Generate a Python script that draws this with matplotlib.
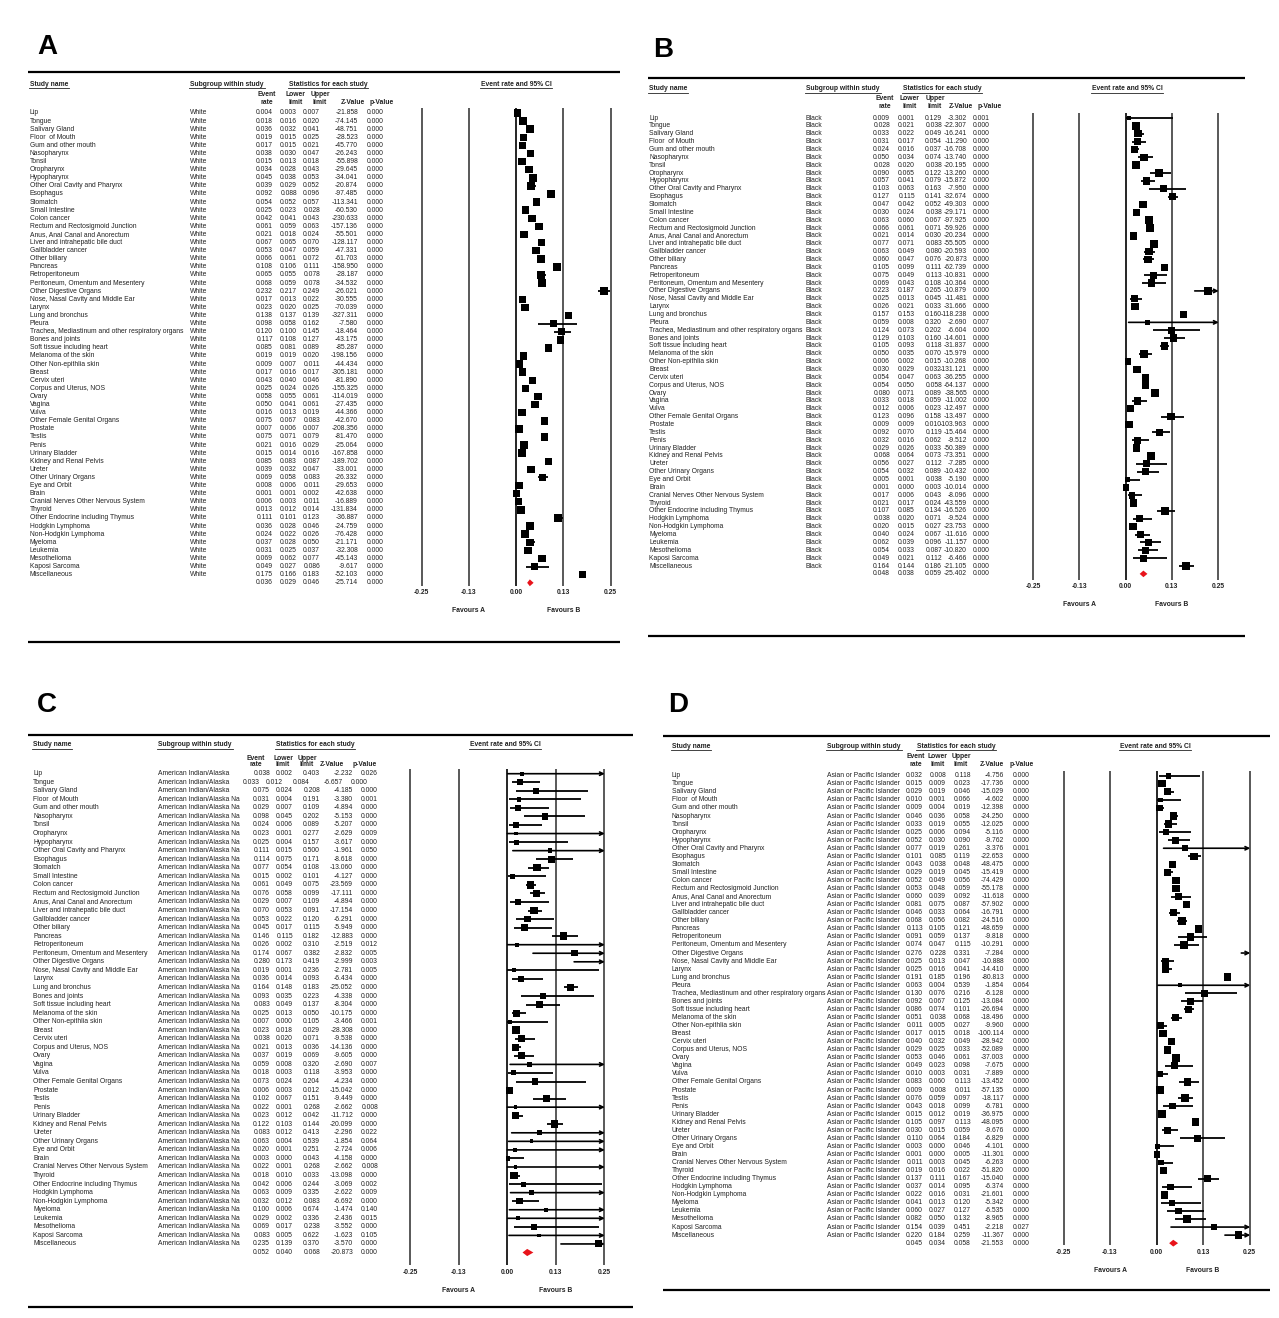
import numpy as np
import matplotlib
matplotlib.use('Agg')
import matplotlib.pyplot as plt
from matplotlib.transforms import blended_transform_factory

plt.rcParams['font.family'] = ['Liberation Sans', 'DejaVu Sans']

# ---- data ----
names = ["Lip", "Tongue", "Salivary Gland", "Floor  of Mouth", "Gum and other mouth", "Nasopharynx",
         "Tonsil", "Oropharynx", "Hypopharynx", "Other Oral Cavity and Pharynx", "Esophagus", "Stomatch",
         "Small Intestine", "Colon cancer", "Rectum and Rectosigmoid Junction", "Anus, Anal Canal and Anorectum",
         "Liver and intrahepatic bile duct", "Gallbladder cancer", "Other biliary", "Pancreas",
         "Retroperitoneum", "Peritoneum, Omentum and Mesentery", "Other Digestive Organs",
         "Nose, Nasal Cavity and Middle Ear", "Larynx", "Lung and bronchus", "Pleura",
         "Trachea, Mediastinum and other respiratory organs", "Bones and joints", "Soft tissue including heart",
         "Melanoma of the skin", "Other Non-epithlia skin", "Breast", "Cervix uteri", "Corpus and Uterus, NOS",
         "Ovary", "Vagina", "Vulva", "Other Female Genital Organs", "Prostate", "Testis", "Penis",
         "Urinary Bladder", "Kidney and Renal Pelvis", "Ureter", "Other Urinary Organs", "Eye and Orbit",
         "Brain", "Cranial Nerves Other Nervous System", "Thyroid", "Other Endocrine including Thymus",
         "Hodgkin Lymphoma", "Non-Hodgkin Lymphoma", "Myeloma", "Leukemia", "Mesothelioma",
         "Kaposi Sarcoma", "Miscellaneous"]
# panel C has no Pleura / Trachea rows
names_c = [n for n in names if n not in ("Pleura", "Trachea, Mediastinum and other respiratory organs")]

# A - White
a_rate = [0.004, 0.018, 0.036, 0.019, 0.017, 0.038, 0.015, 0.034, 0.045, 0.039, 0.092, 0.054, 0.025, 0.042,
          0.061, 0.021, 0.067, 0.053, 0.066, 0.108, 0.065, 0.068, 0.232, 0.017, 0.023, 0.138, 0.098, 0.120,
          0.117, 0.085, 0.019, 0.009, 0.017, 0.043, 0.025, 0.058, 0.050, 0.016, 0.075, 0.007, 0.075, 0.021,
          0.015, 0.085, 0.039, 0.069, 0.008, 0.001, 0.006, 0.013, 0.111, 0.036, 0.024, 0.037, 0.031, 0.069,
          0.049, 0.175]
a_lower = [0.003, 0.016, 0.032, 0.015, 0.015, 0.030, 0.013, 0.028, 0.038, 0.029, 0.088, 0.052, 0.023, 0.041,
           0.059, 0.018, 0.065, 0.047, 0.061, 0.106, 0.055, 0.059, 0.217, 0.013, 0.020, 0.137, 0.058, 0.100,
           0.108, 0.081, 0.019, 0.007, 0.016, 0.040, 0.024, 0.055, 0.041, 0.013, 0.067, 0.006, 0.071, 0.016,
           0.014, 0.083, 0.032, 0.058, 0.006, 0.001, 0.003, 0.012, 0.101, 0.028, 0.022, 0.028, 0.025, 0.062,
           0.027, 0.166]
a_upper = [0.007, 0.020, 0.041, 0.025, 0.021, 0.047, 0.018, 0.043, 0.053, 0.052, 0.096, 0.057, 0.028, 0.043,
           0.063, 0.024, 0.070, 0.059, 0.072, 0.111, 0.078, 0.078, 0.249, 0.022, 0.025, 0.139, 0.162, 0.145,
           0.127, 0.089, 0.020, 0.011, 0.017, 0.046, 0.026, 0.061, 0.061, 0.019, 0.083, 0.007, 0.079, 0.029,
           0.016, 0.087, 0.047, 0.083, 0.011, 0.002, 0.011, 0.014, 0.123, 0.046, 0.026, 0.050, 0.037, 0.077,
           0.086, 0.183]
a_z = [-21.858, -74.145, -48.751, -28.523, -45.770, -26.243, -55.898, -29.645, -34.041, -20.874, -97.485,
       -113.341, -60.530, -230.633, -157.136, -55.501, -128.117, -47.331, -61.703, -158.950, -28.187, -34.532,
       -26.021, -30.555, -70.039, -327.311, -7.580, -18.464, -43.175, -85.287, -198.156, -44.434, -305.181,
       -81.890, -155.325, -114.019, -27.435, -44.366, -42.670, -208.356, -81.470, -25.064, -167.858,
       -189.702, -33.001, -26.332, -29.653, -42.638, -16.889, -131.834, -36.887, -24.759, -76.428, -21.171,
       -32.308, -45.143, -9.617, -52.103]
a_p = [0.0] * 58
a_summary = [0.036, 0.029, 0.046, -25.714, 0.000]

# B - Black
b_rate = [0.009, 0.028, 0.033, 0.031, 0.024, 0.050, 0.028, 0.090, 0.057, 0.103, 0.127, 0.047, 0.030, 0.063,
          0.066, 0.021, 0.077, 0.063, 0.060, 0.105, 0.075, 0.069, 0.223, 0.025, 0.026, 0.157, 0.059, 0.124,
          0.129, 0.105, 0.050, 0.006, 0.030, 0.054, 0.054, 0.080, 0.033, 0.012, 0.123, 0.009, 0.092, 0.032,
          0.029, 0.068, 0.056, 0.054, 0.005, 0.001, 0.017, 0.021, 0.107, 0.038, 0.020, 0.040, 0.062, 0.054,
          0.049, 0.164]
b_lower = [0.001, 0.021, 0.022, 0.017, 0.016, 0.034, 0.020, 0.065, 0.041, 0.063, 0.115, 0.042, 0.024, 0.060,
           0.061, 0.014, 0.071, 0.049, 0.047, 0.099, 0.049, 0.043, 0.187, 0.013, 0.021, 0.153, 0.008, 0.073,
           0.103, 0.093, 0.035, 0.002, 0.029, 0.047, 0.050, 0.071, 0.018, 0.006, 0.096, 0.009, 0.070, 0.016,
           0.026, 0.064, 0.027, 0.032, 0.001, 0.000, 0.006, 0.017, 0.085, 0.020, 0.015, 0.024, 0.039, 0.033,
           0.021, 0.144]
b_upper = [0.129, 0.038, 0.049, 0.054, 0.037, 0.074, 0.038, 0.122, 0.079, 0.163, 0.141, 0.052, 0.038, 0.067,
           0.071, 0.030, 0.083, 0.080, 0.076, 0.111, 0.113, 0.108, 0.265, 0.045, 0.033, 0.160, 0.320, 0.202,
           0.160, 0.118, 0.070, 0.015, 0.032, 0.063, 0.058, 0.089, 0.059, 0.023, 0.158, 0.010, 0.119, 0.062,
           0.033, 0.073, 0.112, 0.089, 0.038, 0.003, 0.043, 0.024, 0.134, 0.071, 0.027, 0.067, 0.096, 0.087,
           0.112, 0.186]
b_z = [-3.302, -22.307, -16.241, -11.290, -16.708, -13.740, -20.195, -13.260, -15.872, -7.950, -32.674,
       -49.303, -29.171, -97.925, -59.926, -20.234, -55.505, -20.593, -20.873, -62.739, -10.831, -10.364,
       -10.879, -11.481, -31.666, -118.238, -2.690, -6.604, -14.601, -31.837, -15.979, -10.268, -131.121,
       -36.255, -64.137, -38.565, -11.002, -12.497, -13.497, -103.963, -15.464, -9.512, -50.389, -73.351,
       -7.285, -10.432, -5.190, -10.014, -8.096, -43.559, -16.526, -9.524, -23.753, -11.616, -11.157, -10.820,
       -6.466, -21.105]
b_p = [0.001] + [0.0] * 25 + [0.007] + [0.0] * 31
b_summary = [0.048, 0.038, 0.059, -25.402, 0.000]

# C - American Indian/Alaska Native
c_rate = [0.038, 0.033, 0.075, 0.031, 0.029, 0.098, 0.024, 0.023, 0.025, 0.111, 0.114, 0.077, 0.015, 0.061,
          0.076, 0.029, 0.070, 0.053, 0.045, 0.146, 0.026, 0.174, 0.280, 0.019, 0.036, 0.164, 0.093, 0.083,
          0.025, 0.007, 0.023, 0.038, 0.021, 0.037, 0.059, 0.018, 0.073, 0.006, 0.102, 0.022, 0.023, 0.122,
          0.083, 0.063, 0.020, 0.003, 0.022, 0.018, 0.042, 0.063, 0.032, 0.100, 0.029, 0.069, 0.083, 0.235]
c_lower = [0.002, 0.012, 0.024, 0.004, 0.007, 0.045, 0.006, 0.001, 0.004, 0.015, 0.075, 0.054, 0.002, 0.049,
           0.058, 0.007, 0.053, 0.022, 0.017, 0.115, 0.002, 0.067, 0.173, 0.001, 0.014, 0.148, 0.035, 0.049,
           0.013, 0.000, 0.018, 0.020, 0.013, 0.019, 0.008, 0.003, 0.024, 0.003, 0.067, 0.001, 0.012, 0.103,
           0.012, 0.004, 0.001, 0.000, 0.001, 0.010, 0.006, 0.009, 0.012, 0.006, 0.002, 0.017, 0.005, 0.139]
c_upper = [0.403, 0.084, 0.208, 0.191, 0.109, 0.202, 0.089, 0.277, 0.157, 0.500, 0.171, 0.108, 0.101, 0.075,
           0.099, 0.109, 0.091, 0.120, 0.115, 0.182, 0.310, 0.382, 0.419, 0.236, 0.093, 0.183, 0.223, 0.137,
           0.050, 0.105, 0.029, 0.071, 0.036, 0.069, 0.320, 0.118, 0.204, 0.012, 0.151, 0.268, 0.042, 0.144,
           0.413, 0.539, 0.251, 0.043, 0.268, 0.033, 0.244, 0.335, 0.083, 0.674, 0.336, 0.238, 0.622, 0.370]
c_z = [-2.232, -6.657, -4.185, -3.380, -4.894, -5.153, -5.207, -2.629, -3.617, -1.961, -8.618, -13.060, -4.127,
       -23.569, -17.111, -4.894, -17.154, -6.291, -5.949, -12.883, -2.519, -2.832, -2.999, -2.781, -6.434,
       -25.052, -4.338, -8.304, -10.175, -3.466, -28.308, -9.538, -14.136, -9.605, -2.690, -3.953, -4.234,
       -15.042, -9.449, -2.662, -11.712, -20.099, -2.296, -1.854, -2.724, -4.158, -2.662, -13.098, -3.069,
       -2.622, -6.692, -1.474, -2.436, -3.552, -1.623, -3.570]
c_p = [0.026, 0.000, 0.000, 0.001, 0.000, 0.000, 0.000, 0.009, 0.000, 0.050, 0.000, 0.000, 0.000, 0.000,
       0.000, 0.000, 0.000, 0.000, 0.000, 0.000, 0.012, 0.005, 0.003, 0.005, 0.000, 0.000, 0.000, 0.000,
       0.000, 0.001, 0.000, 0.000, 0.000, 0.000, 0.007, 0.000, 0.000, 0.000, 0.000, 0.008, 0.000, 0.000,
       0.022, 0.064, 0.006, 0.000, 0.008, 0.000, 0.002, 0.009, 0.000, 0.140, 0.015, 0.000, 0.105, 0.000]
c_summary = [0.052, 0.040, 0.068, -20.873, 0.000]

# D - Asian or Pacific Islander
d_rate = [0.032, 0.015, 0.029, 0.010, 0.009, 0.046, 0.033, 0.025, 0.052, 0.077, 0.101, 0.043, 0.029, 0.052,
          0.053, 0.060, 0.081, 0.046, 0.068, 0.113, 0.091, 0.074, 0.276, 0.025, 0.025, 0.191, 0.063, 0.130,
          0.092, 0.086, 0.051, 0.011, 0.017, 0.040, 0.029, 0.053, 0.049, 0.010, 0.083, 0.009, 0.076, 0.043,
          0.015, 0.105, 0.030, 0.110, 0.003, 0.001, 0.011, 0.019, 0.137, 0.037, 0.022, 0.041, 0.060, 0.082,
          0.154, 0.220]
d_lower = [0.008, 0.009, 0.019, 0.001, 0.004, 0.036, 0.019, 0.006, 0.030, 0.019, 0.085, 0.038, 0.019, 0.049,
           0.048, 0.039, 0.075, 0.033, 0.056, 0.105, 0.059, 0.047, 0.228, 0.013, 0.016, 0.185, 0.004, 0.076,
           0.067, 0.074, 0.038, 0.005, 0.015, 0.032, 0.025, 0.046, 0.023, 0.003, 0.060, 0.008, 0.059, 0.018,
           0.012, 0.097, 0.015, 0.064, 0.000, 0.000, 0.003, 0.016, 0.111, 0.014, 0.016, 0.013, 0.027, 0.050,
           0.039, 0.184]
d_upper = [0.118, 0.023, 0.046, 0.066, 0.019, 0.058, 0.055, 0.094, 0.090, 0.261, 0.119, 0.048, 0.045, 0.056,
           0.059, 0.092, 0.087, 0.064, 0.082, 0.121, 0.137, 0.115, 0.331, 0.047, 0.041, 0.196, 0.539, 0.216,
           0.125, 0.101, 0.068, 0.027, 0.018, 0.049, 0.033, 0.061, 0.098, 0.031, 0.113, 0.011, 0.097, 0.099,
           0.019, 0.113, 0.059, 0.184, 0.046, 0.005, 0.045, 0.022, 0.167, 0.095, 0.031, 0.120, 0.127, 0.132,
           0.451, 0.259]
d_z = [-4.756, -17.736, -15.029, -4.602, -12.398, -24.250, -12.025, -5.116, -9.762, -3.376, -22.653, -48.475,
       -15.419, -74.429, -55.178, -11.618, -57.902, -16.791, -24.516, -48.659, -9.818, -10.291, -7.284,
       -10.888, -14.410, -80.813, -1.854, -6.128, -13.084, -26.694, -18.496, -9.960, -100.114, -28.942,
       -52.089, -37.003, -7.675, -7.889, -13.452, -57.135, -18.117, -6.781, -36.975, -48.095, -9.676, -6.829,
       -4.101, -11.301, -6.263, -51.820, -15.040, -6.374, -21.601, -5.342, -6.535, -8.965, -2.218, -11.367]
d_p = [0.0] * 9 + [0.001] + [0.0] * 16 + [0.064] + [0.0] * 29 + [0.027, 0.0]
d_summary = [0.045, 0.034, 0.058, -21.553, 0.000]

ticks = [-0.25, -0.125, 0.0, 0.125, 0.25]
tick_labels = ['-0.25', '-0.13', '0.00', '0.13', '0.25']

# ---- layout (pixels) ----
panels = [
    dict(letter='A', letter_xy=(37, 47), names=names, group=['White'] * 58,
         rate=a_rate, lower=a_lower, upper=a_upper, z=a_z, p=a_p, summ=a_summary,
         line_x=(28, 620), top_y=72, bot_y=642, hdr_y=84, ev_y=(95, 102), row0=113, step=8.1,
         name_x=30, group_x=190, stats_cx=328, ci_cx=516,
         num_r=[273, 297, 320, 358, 384], hdr_c=[267, 296, 320, 353, 382],
         fx=(421.7, 610.7), tick_y=593, fav_y=610, shift={}),
    dict(letter='B', letter_xy=(653, 50), names=names, group=['Black'] * 58,
         rate=b_rate, lower=b_lower, upper=b_upper, z=b_z, p=b_p, summ=b_summary,
         line_x=(648, 1245), top_y=78, bot_y=636, hdr_y=89, ev_y=(99, 107), row0=118, step=7.86,
         name_x=649, group_x=806, stats_cx=942, ci_cx=1127,
         num_r=[890, 915, 942, 967, 990], hdr_c=[885, 910, 935, 961, 990],
         fx=(1033.3, 1218.0), tick_y=587, fav_y=605, shift={}),
    dict(letter='C', letter_xy=(37, 705), names=names_c,
         group=['American Indian/Alaska'] * 3 + ['American Indian/Alaska Na'] * 53,
         rate=c_rate, lower=c_lower, upper=c_upper, z=c_z, p=c_p, summ=c_summary,
         line_x=(28, 633), top_y=735, bot_y=1307, hdr_y=745, ev_y=(758, 764), row0=773.7, step=8.55,
         name_x=33, group_x=158, stats_cx=315, ci_cx=505,
         num_r=[270, 293, 320, 353, 378], hdr_c=[256, 283, 307, 332, 365],
         fx=(410.0, 604.0), tick_y=1272, fav_y=1291, shift={1: -10}),
    dict(letter='D', letter_xy=(668, 705), names=names, group=['Asian or Pacific Islander'] * 58,
         rate=d_rate, lower=d_lower, upper=d_upper, z=d_z, p=d_p, summ=d_summary,
         line_x=(663, 1270), top_y=736, bot_y=1290, hdr_y=746, ev_y=(757, 764), row0=775.7, step=8.06,
         name_x=672, group_x=827, stats_cx=956, ci_cx=1155,
         num_r=[923, 946, 971, 1004, 1030], hdr_c=[916, 938, 961, 992, 1022],
         fx=(1063.5, 1249.5), tick_y=1252, fav_y=1270, shift={}),
]

W, H = 1279, 1318
FS = 4.9
TXT = '#222222'
fig = plt.figure(figsize=(W / 100, H / 100), dpi=100)
ax = fig.add_axes([0, 0, 1, 1])
ax.set_xlim(0, W)
ax.set_ylim(H, 0)
ax.axis('off')

underlined = []


def logit(v):
    v = np.clip(np.asarray(v, float), 0.0005, 0.9995)
    return np.log(v / (1 - v))


for P in panels:
    n = len(P['names'])
    # forest axes: x in event-rate units, y in row units
    fx = fig.add_axes([0, 0, 1, 1])
    fx.patch.set_alpha(0)
    fx.axis('off')
    px0, px1 = P['fx']
    s = 0.5 / (px1 - px0)
    fx.set_xlim(-0.25 - px0 * s, -0.25 + (W - px0) * s)
    fx.set_ylim((H - P['row0']) / P['step'], -P['row0'] / P['step'])
    rows_tr = blended_transform_factory(ax.transData, fx.transData)
    ticks_tr = blended_transform_factory(fx.transData, ax.transData)

    # frame lines and letter
    ax.plot(P['line_x'], [P['top_y']] * 2, color='black', lw=1.6, solid_capstyle='butt')
    ax.plot(P['line_x'], [P['bot_y']] * 2, color='black', lw=1.6, solid_capstyle='butt')
    ax.text(*P['letter_xy'], P['letter'], fontsize=20, fontweight='bold', va='center', ha='left')

    # headers
    for txt, x, ha in [('Study name', P['name_x'], 'left'),
                       ('Subgroup within study', P['group_x'], 'left'),
                       ('Statistics for each study', P['stats_cx'], 'center'),
                       ('Event rate and 95% CI', P['ci_cx'], 'center')]:
        t = ax.text(x, P['hdr_y'], txt, fontsize=FS, fontweight='bold', ha=ha, va='center', color=TXT)
        underlined.append(t)
    for k, (l1, l2) in enumerate([('Event', 'rate'), ('Lower', 'limit'), ('Upper', 'limit'),
                                  (None, 'Z-Value'), (None, 'p-Value')]):
        if l1:
            ax.text(P['hdr_c'][k], P['ev_y'][0], l1, fontsize=FS, fontweight='bold', ha='center',
                    va='center', color=TXT)
        ax.text(P['hdr_c'][k], P['ev_y'][1], l2, fontsize=FS, fontweight='bold', ha='center',
                va='center', color=TXT)

    # table rows
    for i in range(n):
        ax.text(P['name_x'], i, P['names'][i], fontsize=FS, va='center', color=TXT, transform=rows_tr)
        ax.text(P['group_x'], i, P['group'][i], fontsize=FS, va='center', color=TXT, transform=rows_tr)
        dx = P['shift'].get(i, 0)
        vals = [P['rate'][i], P['lower'][i], P['upper'][i], P['z'][i], P['p'][i]]
        for k, v in enumerate(vals):
            ax.text(P['num_r'][k] + dx, i, f'{v:.3f}', fontsize=FS, va='center', ha='right',
                    color=TXT, transform=rows_tr)
    for k, v in enumerate(P['summ']):
        ax.text(P['num_r'][k], n, f'{v:.3f}', fontsize=FS, va='center', ha='right', color=TXT,
                transform=rows_tr)

    # forest plot
    v_top = -5 / P['step']
    v_bot = (P['tick_y'] - 7 - P['row0']) / P['step']
    fx.vlines([t for t in ticks if t != 0], v_top, v_bot, color='#3c3c3c', lw=1.2)
    fx.vlines([0], v_top, v_bot, color='black', lw=1.2)
    for t, lab in zip(ticks, tick_labels):
        ax.text(t, P['tick_y'], lab, fontsize=FS, fontweight='bold', ha='center', va='center',
                color=TXT, transform=ticks_tr)
    ax.text(-0.125, P['fav_y'], 'Favours A', fontsize=FS, fontweight='bold', ha='center',
            va='center', color=TXT, transform=ticks_tr)
    ax.text(0.125, P['fav_y'], 'Favours B', fontsize=FS, fontweight='bold', ha='center',
            va='center', color=TXT, transform=ticks_tr)

    rate = np.array(P['rate'])
    lo = np.array(P['lower'])
    up = np.array(P['upper'])
    se = (logit(up) - logit(lo)) / 3.92
    w = 1.0 / (se ** 2 + 0.7)
    side = 7.6 * np.sqrt(w / w.max()) * 0.72  # points
    yy = np.arange(n)
    for i in range(n):
        if up[i] > 0.25:
            fx.annotate('', xy=(0.252, i), xytext=(lo[i], i),
                        arrowprops=dict(arrowstyle='->', lw=1.2, color='black', mutation_scale=6,
                                        shrinkA=0, shrinkB=0))
        else:
            fx.plot([lo[i], up[i]], [i, i], color='black', lw=1.3, solid_capstyle='butt')
    inside = rate <= 0.25
    fx.scatter(rate[inside], yy[inside], s=side[inside] ** 2, marker='s', color='black',
               linewidths=0, zorder=3)

    e, l, u = P['summ'][:3]
    h = 0.42
    fx.fill([l, e, u, e], [n, n - h, n, n + h], color='#e8131b', lw=0, zorder=3)

# underline header texts
fig.canvas.draw()
for t in underlined:
    bb = t.get_window_extent()
    y = H - bb.y0 + 0.5
    ax.plot([bb.x0 - 1, bb.x1 + 1], [y, y], color=TXT, lw=0.6)

fig.savefig('out.png', dpi=100)
